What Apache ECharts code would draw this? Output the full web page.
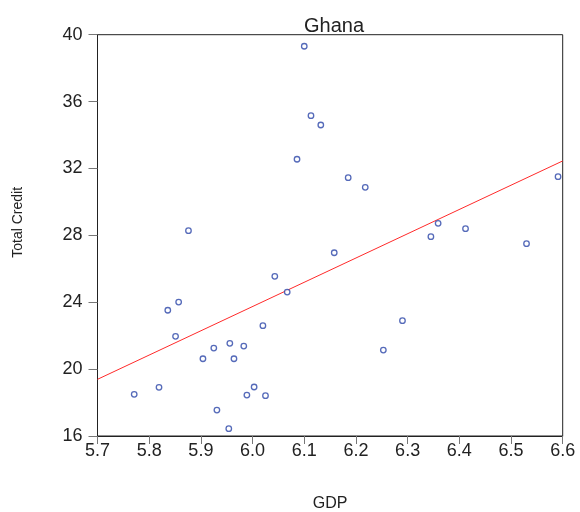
<!DOCTYPE html>
<html>
<head>
<meta charset="utf-8">
<script src="https://cdn.jsdelivr.net/npm/echarts@6/dist/echarts.min.js"></script>
<style>html,body{margin:0;padding:0;background:#fff}#c{width:580px;height:512px}</style>
</head>
<body>
<div id="c"></div>
<script>
const gdp = [6.100, 6.113, 6.132, 6.086, 6.185, 6.591, 6.218, 5.876, 6.359, 6.345, 6.412, 6.530, 6.158, 6.043, 6.067, 5.857, 5.836,
             6.020, 6.290, 5.851, 5.956, 5.925, 5.983, 6.253, 5.904, 5.964, 5.819, 6.003, 5.771, 5.989, 6.025, 5.931, 5.954];
const credit = [39.31, 35.16, 34.60, 32.55, 31.45, 31.51, 30.87, 28.28, 28.72, 27.92, 28.40, 27.50, 26.96, 25.55, 24.61, 24.01, 23.52,
                22.60, 22.90, 21.96, 21.54, 21.26, 21.38, 21.14, 20.62, 20.62, 18.91, 18.93, 18.49, 18.45, 18.41, 17.55, 16.44];
const fitX = [5.7, 6.6];
const fitY = [19.39, 32.45];
const xTicks = [5.7, 6.6, 0.1];
const yTicks = [16, 40, 4];

const chart = echarts.init(document.getElementById('c'), null, {renderer: 'canvas'});
const font = '"Liberation Sans", Arial, sans-serif';
chart.setOption({
  animation: false,
  backgroundColor: '#fff',
  title: {
    text: 'Ghana', left: 329, top: 11, textAlign: 'center',
    textStyle: {fontFamily: font, fontSize: 20, fontWeight: 'normal', color: '#222'}
  },
  grid: {left: 97.5, right: 17.3, top: 34.7, bottom: 76, containLabel: false, outerBoundsMode: 'none',
    show: true, borderColor: '#222', borderWidth: 1},
  xAxis: {
    type: 'value', min: xTicks[0], max: xTicks[1], interval: xTicks[2],
    name: 'GDP', nameLocation: 'middle', nameGap: 60,
    nameTextStyle: {fontFamily: font, fontSize: 16, color: '#222'},
    axisLine: {show: true, lineStyle: {color: '#222', width: 1}},
    axisTick: {show: true, length: 8, lineStyle: {color: '#777'}},
    axisLabel: {fontFamily: font, fontSize: 18, color: '#222', margin: 6,
      formatter: v => v.toFixed(1)},
    splitLine: {show: false}
  },
  yAxis: {
    type: 'value', min: yTicks[0], max: yTicks[1], interval: yTicks[2],
    name: 'Total Credit', nameLocation: 'middle', nameGap: 72,
    nameTextStyle: {fontFamily: font, fontSize: 14, color: '#222', padding: [0, 0, 0, 26]},
    axisLine: {show: true, lineStyle: {color: '#222', width: 1}},
    axisTick: {show: true, length: 9, lineStyle: {color: '#777'}},
    axisLabel: {fontFamily: font, fontSize: 18, color: '#222', margin: 15},
    splitLine: {show: false}
  },
  series: [
    {
      type: 'line', data: fitX.map((x, i) => [x, fitY[i]]),
      symbol: 'none', lineStyle: {color: '#ff2a2a', width: 1}, z: 1
    },
    {
      type: 'scatter', data: gdp.map((x, i) => [x, credit[i]]),
      symbol: 'circle', symbolSize: 5.5,
      itemStyle: {color: '#fff', borderColor: '#2a45a8', borderWidth: 1.3}, z: 2
    }
  ]
});
</script>
</body>
</html>
